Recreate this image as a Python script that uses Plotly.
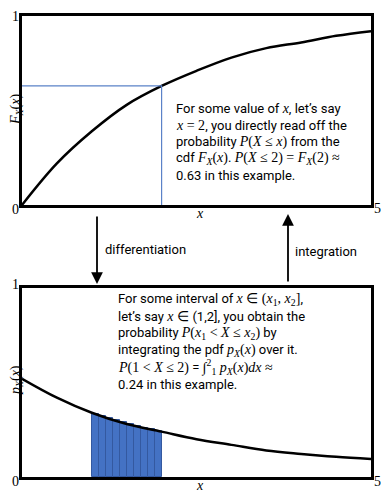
import plotly.graph_objects as go

# ---- data ----
x_pts = [0, 0.5, 1, 1.5, 2, 2.5, 3, 3.5, 4, 4.5, 5]
cdf_vals = [0, 0.22, 0.39, 0.53, 0.63, 0.71, 0.78, 0.83, 0.86, 0.895, 0.92]
pdf_vals = [0.52, 0.42, 0.34, 0.28, 0.24, 0.20, 0.17, 0.14, 0.122, 0.107, 0.095]
bar_x = [1.05, 1.15, 1.25, 1.35, 1.45, 1.55, 1.65, 1.75, 1.85, 1.95]
bar_h = [0.335, 0.322, 0.31, 0.299, 0.289, 0.279, 0.27, 0.261, 0.252, 0.243]
x_read = 2
F_read = 0.63

OFF = 8  # page body margin
W, H = 389 - OFF, 496 - OFF
def P(px, py):
    return (px - OFF) / W, 1 - (py - OFF) / H

fig = go.Figure()
fig.add_trace(go.Scatter(x=x_pts, y=cdf_vals, mode="lines", line=dict(color="black", width=2.5, shape="spline"),
                         xaxis="x", yaxis="y", showlegend=False, hoverinfo="skip"))
fig.add_trace(go.Scatter(x=[0, x_read, x_read], y=[F_read, F_read, 0], mode="lines",
                         line=dict(color="#5b82c8", width=1.2), xaxis="x", yaxis="y", showlegend=False, hoverinfo="skip"))
fig.add_trace(go.Bar(x=bar_x, y=bar_h, width=0.1, marker=dict(color="#4472C4", line=dict(color="#3459a0", width=1)),
                     xaxis="x2", yaxis="y2", showlegend=False, hoverinfo="skip"))
fig.add_trace(go.Scatter(x=x_pts, y=pdf_vals, mode="lines", line=dict(color="black", width=2.5, shape="spline"),
                         xaxis="x2", yaxis="y2", showlegend=False, hoverinfo="skip"))

x0, _ = P(22, 0)
x1, _ = P(371, 0)
_, t_top = P(0, 16)
_, t_bot = P(0, 205)
_, b_top = P(0, 288)
_, b_bot = P(0, 477)

ax_common = dict(range=[0, 5], showgrid=False, zeroline=False, showticklabels=False, ticks="",
                 showline=True, mirror=True, linecolor="black", linewidth=2.5, fixedrange=True)
ay_common = dict(range=[0, 1], showgrid=False, zeroline=False, showticklabels=False, ticks="",
                 showline=True, mirror=True, linecolor="black", linewidth=2.5, fixedrange=True)

fig.update_layout(
    width=W, height=H, margin=dict(l=0, r=0, t=0, b=0),
    paper_bgcolor="white", plot_bgcolor="white",
    xaxis=dict(domain=[x0, x1], anchor="y", **ax_common),
    yaxis=dict(domain=[t_bot, t_top], anchor="x", **ay_common),
    xaxis2=dict(domain=[x0, x1], anchor="y2", **ax_common),
    yaxis2=dict(domain=[b_bot, b_top], anchor="x2", **ay_common),
    bargap=0,
)

SANS = "Roboto"
SERIF = "Liberation Serif"
def m(s):
    return f'<span style="font-family:{SERIF};font-size:14px">{s}</span>'
def i(s):
    return f"<i>{s}</i>"

anns = []
def txt(px, py, text, size=13, family=SANS, xanchor="left", angle=0):
    x, y = P(px, py)
    anns.append(dict(x=x, y=y, xref="paper", yref="paper", text=text, showarrow=False,
                     xanchor=xanchor, yanchor="middle", align="left", textangle=angle,
                     font=dict(family=family, size=size, color="black")))

# tick labels
txt(15, 16, "1", 14, SERIF, "center")
txt(15, 210, "0", 14, SERIF, "center")
txt(377, 208, "5", 14, SERIF, "center")
txt(200, 213, i("x"), 14, SERIF, "center")
txt(15, 284, "1", 14, SERIF, "center")
txt(15, 481, "0", 14, SERIF, "center")
txt(377, 481, "5", 14, SERIF, "center")
txt(200, 485, i("x"), 14, SERIF, "center")
txt(16, 110, i("F") + "<sub>" + i("X") + "</sub>(" + i("x") + ")", 14, SERIF, "center", -90)
txt(16, 380, i("p") + "<sub>" + i("X") + "</sub>(" + i("x") + ")", 14, SERIF, "center", -90)

# top text block
top_lines = [
    "For some value of " + m(i("x")) + ", let’s say",
    m(i("x") + " = 2") + ", you directly read off the",
    "probability " + m(i("P") + "(" + i("X") + " ≤ " + i("x") + ")") + " from the",
    "cdf " + m(i("F") + "<sub>" + i("X") + "</sub>(" + i("x") + ")") + ". "
    + m(i("P") + "(" + i("X") + " ≤ 2) = " + i("F") + "<sub>" + i("X") + "</sub>(2) ≈"),
    "0.63 in this example.",
]
for k, line in enumerate(top_lines):
    txt(174, 108 + 17 * k, line)

bot_lines = [
    "For some interval of " + m(i("x") + " ∈ (" + i("x") + "<sub>1</sub>, " + i("x") + "<sub>2</sub>]") + ",",
    "let’s say " + m(i("x") + " ∈ ") + "(1,2], you obtain the",
    "probability " + m(i("P") + "(" + i("x") + "<sub>1</sub> < " + i("X") + " ≤ " + i("x") + "<sub>2</sub>)") + " by",
    "integrating the pdf " + m(i("p") + "<sub>" + i("X") + "</sub>(" + i("x") + ")") + " over it.",
    m(i("P") + "(1 < " + i("X") + " ≤ 2)") + " = " + m("∫<sup>2</sup><sub>1</sub> " + i("p") + "<sub>" + i("X") + "</sub>(" + i("x") + ")" + i("dx") + " ≈"),
    "0.24 in this example.",
]
for k, line in enumerate(bot_lines):
    txt(116, 299 + 17 * k, line)

# arrows
txt(103, 249, "differentiation")
txt(293, 251, "integration")
hx, hy = P(97, 284)
anns.append(dict(x=hx, y=hy, xref="paper", yref="paper", text="", showarrow=True, ax=0, ay=-69,
                 arrowhead=2, arrowsize=1.3, arrowwidth=1.8, arrowcolor="black"))
hx, hy = P(288, 214)
anns.append(dict(x=hx, y=hy, xref="paper", yref="paper", text="", showarrow=True, ax=0, ay=69,
                 arrowhead=2, arrowsize=1.3, arrowwidth=1.8, arrowcolor="black"))

fig.update_layout(annotations=anns)
fig.write_html("out.html")
